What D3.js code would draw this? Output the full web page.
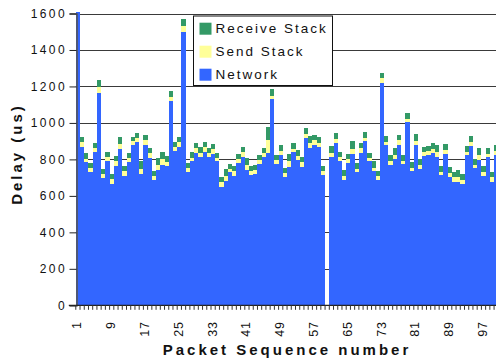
<!DOCTYPE html>
<html>
<head>
<meta charset="utf-8">
<script src="https://cdn.jsdelivr.net/npm/d3@7"></script>
<style>
  html, body { margin: 0; padding: 0; background: #fff; overflow: hidden; }
  text { font-family: "Liberation Sans", Arial, sans-serif; fill: #111; }
</style>
</head>
<body>
<svg id="chart" width="496" height="360"></svg>
<script>
// Packet sequence numbers 1..100
const packets = d3.range(1, 101);

// Delay components per packet (microseconds)
const network = [
  1650, 869, 787, 731, 840, 1163, 700, 791, 667, 765,
  857, 711, 785, 879, 895, 721, 879, 807, 687, 743,
  771, 765, 1120, 846, 869, 1498, 731, 789, 835, 815,
  840, 815, 829, 789, 648, 683, 731, 711, 780, 815,
  742, 712, 720, 774, 815, 835, 1131, 774, 824, 705,
  760, 840, 796, 760, 917, 862, 879, 869, 714, 0,
  813, 890, 791, 687, 780, 829, 731, 835, 900, 791,
  734, 689, 1218, 879, 769, 802, 879, 774, 1005, 736,
  879, 747, 818, 824, 835, 813, 714, 829, 703, 676,
  676, 665, 824, 873, 753, 796, 709, 813, 676, 824
];
const sendStack = [
  25, 26, 17, 23, 24, 32, 20, 20, 27, 26,
  27, 23, 22, 20, 24, 28, 27, 28, 24, 26,
  31, 22, 23, 23, 26, 34, 23, 20, 27, 20,
  28, 20, 28, 18, 28, 28, 18, 23, 24, 25,
  29, 26, 22, 22, 20, 69, 18, 22, 23, 18,
  31, 18, 24, 25, 22, 29, 27, 22, 24, 0,
  22, 21, 22, 22, 22, 28, 16, 27, 17, 16,
  19, 20, 28, 16, 22, 22, 27, 17, 16, 18,
  21, 22, 22, 22, 22, 27, 17, 22, 22, 27,
  27, 22, 16, 22, 16, 28, 22, 16, 27, 22
];
const receiveStack = [
  30, 27, 31, 26, 25, 40, 27, 29, 26, 27,
  38, 29, 28, 23, 25, 42, 27, 27, 25, 36,
  38, 31, 31, 26, 27, 37, 26, 29, 27, 33,
  27, 27, 27, 28, 29, 36, 25, 31, 25, 28,
  36, 27, 29, 28, 27, 73, 35, 28, 31, 30,
  38, 31, 31, 28, 33, 37, 27, 31, 25, 0,
  38, 33, 27, 33, 27, 43, 33, 27, 33, 28,
  38, 27, 27, 33, 33, 38, 27, 33, 33, 31,
  38, 33, 27, 27, 33, 38, 33, 33, 33, 27,
  38, 33, 33, 33, 33, 38, 33, 33, 27, 33
];

const seriesNames = ["Network", "Send Stack", "Receive Stack"];
const seriesColors = ["#3366ff", "#ffff99", "#339966"];
const yTicks = [0, 200, 400, 600, 800, 1000, 1200, 1400, 1600];
const xTickLabels = [1, 9, 17, 25, 33, 41, 49, 57, 65, 73, 81, 89, 97];

const rows = packets.map((p, i) => ({
  packet: p,
  "Network": network[i],
  "Send Stack": sendStack[i],
  "Receive Stack": receiveStack[i]
}));

const svg = d3.select("#chart");
const W = 496;
const plotLeft = 75.8, bandW = 4.225;
const plotTop = 13.5, plotBottom = 305.3;

const x = d3.scaleBand().domain(packets).range([plotLeft, plotLeft + bandW * packets.length]).padding(0);
const y = d3.scaleLinear().domain([0, 1600]).range([plotBottom, plotTop]);
const color = d3.scaleOrdinal().domain(seriesNames).range(seriesColors);

svg.append("rect").attr("width", W).attr("height", 360).attr("fill", "#fff");

// Horizontal gridlines
svg.append("g")
  .selectAll("line")
  .data(yTicks.filter(d => d > 0))
  .join("line")
  .attr("x1", plotLeft).attr("x2", W)
  .attr("y1", d => Math.round(y(d)) + 0.5).attr("y2", d => Math.round(y(d)) + 0.5)
  .attr("stroke", "#3a3a3a").attr("stroke-width", 1);

// Stacked bars, clipped to the plot area
svg.append("clipPath").attr("id", "plotClip")
  .append("rect").attr("x", plotLeft).attr("y", 12).attr("width", W - plotLeft).attr("height", plotBottom - 12);

const stacked = d3.stack().keys(seriesNames)(rows);
svg.append("g")
  .attr("clip-path", "url(#plotClip)")
  .attr("shape-rendering", "crispEdges")
  .selectAll("g")
  .data(stacked)
  .join("g")
  .attr("fill", d => color(d.key))
  .selectAll("rect")
  .data(d => d.filter(s => s[1] > s[0]))
  .join("rect")
  .attr("x", d => x(d.data.packet))
  .attr("width", x.bandwidth())
  .attr("y", d => y(d[1]))
  .attr("height", d => y(d[0]) - y(d[1]));

// Y axis
const yAxis = svg.append("g")
  .attr("transform", `translate(${plotLeft + 0.7},0)`)
  .call(d3.axisLeft(y).tickValues(yTicks).tickSize(7).tickPadding(2.5).tickFormat(d3.format("d")));
yAxis.select(".domain").attr("stroke", "#555").attr("stroke-width", 1.6);
yAxis.selectAll(".tick line").attr("stroke", "#222");
yAxis.selectAll(".tick text")
  .attr("font-size", 12).attr("letter-spacing", "2.4px").attr("fill", "#111")
  .attr("font-family", "Liberation Sans, Arial, sans-serif");

// X axis baseline and per-packet ticks
svg.append("line")
  .attr("x1", plotLeft - 7).attr("x2", W)
  .attr("y1", plotBottom).attr("y2", plotBottom)
  .attr("stroke", "#222").attr("stroke-width", 1.2);
svg.append("g")
  .selectAll("line")
  .data(packets)
  .join("line")
  .attr("x1", d => x(d)).attr("x2", d => x(d))
  .attr("y1", plotBottom).attr("y2", plotBottom + 4.5)
  .attr("stroke", "#333").attr("stroke-width", 1);

svg.append("g")
  .selectAll("text")
  .data(xTickLabels)
  .join("text")
  .attr("transform", d => `translate(${x(d) + x.bandwidth() / 2 - 1},${plotBottom + 16}) rotate(-90)`)
  .attr("text-anchor", "end")
  .attr("dy", "0.36em")
  .attr("font-size", 12.5)
  .attr("letter-spacing", "0.8px")
  .text(d => d);

// Axis titles
svg.append("text")
  .attr("x", 287).attr("y", 355)
  .attr("text-anchor", "middle")
  .attr("font-size", 15).attr("font-weight", "bold").attr("letter-spacing", "3px")
  .text("Packet Sequence number");

svg.append("text")
  .attr("transform", "translate(22,154) rotate(-90)")
  .attr("text-anchor", "middle")
  .attr("font-size", 15).attr("font-weight", "bold").attr("letter-spacing", "3px")
  .text("Delay (us)");

// Legend
const legendOrder = ["Receive Stack", "Send Stack", "Network"];
const legend = svg.append("g").attr("transform", "translate(193.5,16)");
legend.append("rect")
  .attr("width", 139).attr("height", 69.5)
  .attr("fill", "#fff").attr("stroke", "#111").attr("stroke-width", 1);
const item = legend.selectAll("g.item")
  .data(legendOrder)
  .join("g")
  .attr("class", "item")
  .attr("transform", (d, i) => `translate(6,${6.7 + i * 23})`);
item.append("rect")
  .attr("width", 12).attr("height", 12)
  .attr("fill", d => color(d));
item.append("text")
  .attr("x", 16).attr("y", 10.5)
  .attr("font-size", 13.5).attr("letter-spacing", "2px")
  .text(d => d);
</script>
</body>
</html>
